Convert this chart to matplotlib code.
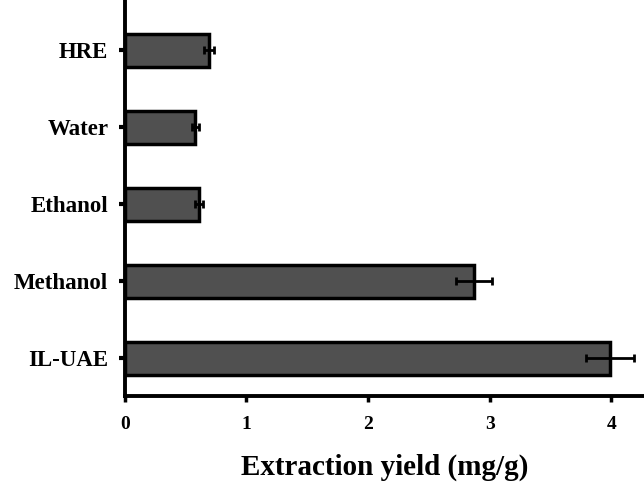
import matplotlib
matplotlib.use("Agg")
import matplotlib.pyplot as plt

categories = ["IL-UAE", "Methanol", "Ethanol", "Water", "HRE"]
values = [3.99, 2.87, 0.61, 0.58, 0.69]
errors = [0.20, 0.15, 0.03, 0.03, 0.04]
xticks = [0, 1, 2, 3, 4]

plt.rcParams['font.family'] = ['Liberation Serif', 'DejaVu Serif']
plt.rcParams['font.weight'] = 'bold'

fig = plt.figure(figsize=(6.44, 4.82), dpi=100)
ax = fig.add_axes([0.194, 0.178, 0.806, 0.822])

ypos = list(range(len(categories)))
ax.barh(ypos, values, height=0.43, color='#505050', edgecolor='black', linewidth=2.5,
        xerr=errors, error_kw=dict(ecolor='black', elinewidth=2, capsize=3, capthick=2))

ax.set_yticks(ypos)
ax.set_yticklabels(categories, fontsize=16.5, fontweight='bold')
ax.set_xticks(xticks)
ax.set_xticklabels([str(t) for t in xticks], fontsize=14, fontweight='bold')
ax.set_xlim(0, 4.27)
ax.set_ylim(-0.49, 4.65)

for s in ['top', 'right']:
    ax.spines[s].set_visible(False)
for s in ['left', 'bottom']:
    ax.spines[s].set_linewidth(2.8)

ax.tick_params(axis='y', direction='out', length=4, width=3, pad=8)
ax.tick_params(axis='x', direction='out', length=4, width=2.5, pad=10)

ax.set_xlabel("Extraction yield (mg/g)", fontsize=21, fontweight='bold', labelpad=15)

fig.savefig("out.png", dpi=100)
